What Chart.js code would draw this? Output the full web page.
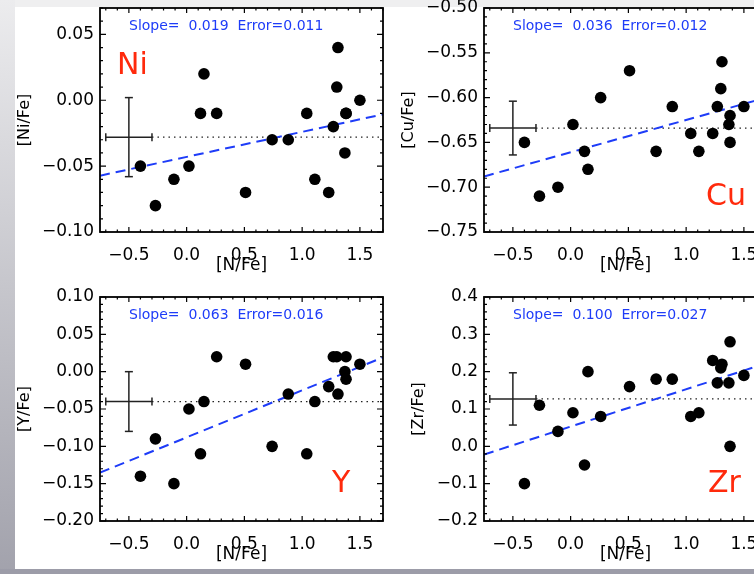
<!DOCTYPE html>
<html>
<head>
<meta charset="utf-8">
<script src="https://cdn.jsdelivr.net/npm/chart.js@4.4.0/dist/chart.umd.min.js"></script>
<style>
  body { margin: 0; }
  #page { position: relative; width: 754px; height: 574px; overflow: hidden; background: #fff; }
  #topStrip { position: absolute; left: 0; top: 0; width: 754px; height: 7px; background: #efeff0; }
  #leftStrip { position: absolute; left: 0; top: 0; width: 15px; height: 574px; background: linear-gradient(#ececee, #c6c6cc 50%, #a2a2ac); }
  #bottomStrip { position: absolute; left: 0; top: 569px; width: 754px; height: 5px; background: #9c9ca8; }
  canvas { position: absolute; }
</style>
</head>
<body>
<div id="page">
  <div id="topStrip"></div>
  <div id="leftStrip"></div>
  <div id="bottomStrip"></div>
  <canvas id="ni" width="403" height="294" style="left:0px; top:-12px"></canvas>
  <canvas id="cu" width="403" height="294" style="left:384px; top:-12px"></canvas>
  <canvas id="yy" width="403" height="294" style="left:0px; top:277px"></canvas>
  <canvas id="zr" width="403" height="294" style="left:384px; top:277px"></canvas>
</div>
<script>
// [N/Fe] of the sample stars (shared by all four panels)
const nFe  = [-0.40, -0.27, -0.11, 0.02, 0.12, 0.15, 0.26, 0.51, 0.74, 0.88, 1.04, 1.11, 1.23, 1.27, 1.30, 1.31, 1.37, 1.38, 1.38, 1.50];
const niFe = [-0.05, -0.08, -0.06, -0.05, -0.01, 0.02, -0.01, -0.07, -0.03, -0.03, -0.01, -0.06, -0.07, -0.02, 0.01, 0.04, -0.04, -0.01, -0.01, 0.00];
const cuFe = [-0.65, -0.71, -0.70, -0.63, -0.66, -0.68, -0.60, -0.57, -0.66, -0.61, -0.64, -0.66, -0.64, -0.61, -0.59, -0.56, -0.63, -0.62, -0.65, -0.61];
const yFe  = [-0.14, -0.09, -0.15, -0.05, -0.11, -0.04, 0.02, 0.01, -0.10, -0.03, -0.11, -0.04, -0.02, 0.02, 0.02, -0.03, 0.00, 0.02, -0.01, 0.01];
const zrFe = [-0.10, 0.11, 0.04, 0.09, -0.05, 0.20, 0.08, 0.16, 0.18, 0.18, 0.08, 0.09, 0.23, 0.17, 0.21, 0.22, 0.17, 0.28, 0.00, 0.19];

// linear fits, mean abundance and typical error per element
const elements    = ['Ni', 'Cu', 'Y', 'Zr'];
const slopes      = [0.019, 0.036, 0.063, 0.100];
const slopeErrors = [0.011, 0.012, 0.016, 0.027];
const intercepts  = [-0.043, -0.661, -0.088, 0.053];
const means       = [-0.028, -0.634, -0.040, 0.127];
const yErrs       = [0.03, 0.03, 0.04, 0.07];
const barX = -0.5, xErr = 0.2;

// axes
const xRange  = [-0.75, 1.7];
const xTicks  = [-0.5, 0.0, 0.5, 1.0, 1.5];
const niTicks = [-0.10, -0.05, 0.00, 0.05];
const cuTicks = [-0.75, -0.70, -0.65, -0.60, -0.55, -0.50];
const yTicks  = [-0.20, -0.15, -0.10, -0.05, 0.00, 0.05, 0.10];
const zrTicks = [-0.2, -0.1, 0.0, 0.1, 0.2, 0.3, 0.4];

const FONT = 'DejaVu Sans';
const BLUE = '#1e3cf8';
const RED = '#ff2a0c';
Chart.defaults.font.family = FONT;
Chart.defaults.color = '#000';

const fmt = (v, d) => v.toFixed(d).replace('-', '\u2212');

// box frame with inward IDL-style ticks, plus the fit text and element name
const framePlugin = {
  id: 'frame',
  afterDatasetsDraw(chart) {
    const {ctx, chartArea: a, scales: {x, y}} = chart;
    const o = chart.options.plugins.frame;
    ctx.save();
    ctx.strokeStyle = '#000';
    ctx.lineWidth = 1.8;
    ctx.strokeRect(a.left, a.top, a.width, a.height);

    ctx.lineWidth = 1.2;
    ctx.beginPath();
    const k0 = Math.ceil(x.min / 0.1 - 1e-6), k1 = Math.floor(x.max / 0.1 + 1e-6);
    for (let k = k0; k <= k1; k++) {
      const px = x.getPixelForValue(k * 0.1);
      const len = k % 5 === 0 ? 5 : 2.5;
      ctx.moveTo(px, a.bottom); ctx.lineTo(px, a.bottom - len);
      ctx.moveTo(px, a.top); ctx.lineTo(px, a.top + len);
    }
    const s = o.minor;
    const j0 = Math.ceil(y.min / s - 1e-6), j1 = Math.floor(y.max / s + 1e-6);
    for (let j = j0; j <= j1; j++) {
      const py = y.getPixelForValue(j * s);
      const len = j % 5 === 0 ? 6 : 3;
      ctx.moveTo(a.left, py); ctx.lineTo(a.left + len, py);
      ctx.moveTo(a.right, py); ctx.lineTo(a.right - len, py);
    }
    ctx.stroke();

    ctx.fillStyle = BLUE;
    ctx.font = '14px ' + FONT;
    ctx.textBaseline = 'middle';
    ctx.fillText('Slope=  ' + o.slope.toFixed(3) + '  Error=' + o.err.toFixed(3), a.left + 29, a.top + 18);

    ctx.fillStyle = RED;
    ctx.font = '30px ' + FONT;
    ctx.textBaseline = 'alphabetic';
    ctx.fillText(o.name, a.left + o.nameAt[0], a.top + o.nameAt[1]);
    ctx.restore();
  }
};

function panel(id, i, vals, ticks, range, decimals, minor, titleGap, nameAt) {
  const pts = nFe.map((v, k) => ({x: v, y: vals[k]}));
  const fit = xRange.map(v => ({x: v, y: intercepts[i] + slopes[i] * v}));
  const m = means[i], e = yErrs[i];
  new Chart(id, {
    type: 'scatter',
    data: {
      datasets: [
        {data: pts, backgroundColor: '#000', borderWidth: 0, pointRadius: 5.8},
        {type: 'line', data: fit, borderColor: BLUE, borderWidth: 2, borderDash: [10, 6], pointRadius: 0},
        {type: 'line', data: [{x: barX + xErr, y: m}, {x: xRange[1], y: m}],
          borderColor: '#222', borderWidth: 1.2, borderDash: [1.5, 4], pointRadius: 0},
        {type: 'line', data: [{x: barX - xErr, y: m}, {x: barX + xErr, y: m}],
          borderColor: '#222', borderWidth: 1.5, pointStyle: 'line', pointRadius: 4,
          pointRotation: 90, pointBorderColor: '#222', pointBorderWidth: 1.5},
        {type: 'line', data: [{x: barX, y: m - e}, {x: barX, y: m + e}],
          borderColor: '#222', borderWidth: 1.5, pointStyle: 'line', pointRadius: 4,
          pointRotation: 0, pointBorderColor: '#222', pointBorderWidth: 1.5}
      ]
    },
    options: {
      responsive: false,
      animation: false,
      layout: {padding: {left: 0, top: 20, right: 20, bottom: 5}},
      plugins: {
        legend: {display: false},
        tooltip: {enabled: false},
        frame: {slope: slopes[i], err: slopeErrors[i], name: elements[i], nameAt: nameAt, minor: minor}
      },
      scales: {
        x: {
          type: 'linear', min: xRange[0], max: xRange[1],
          afterBuildTicks: s => { s.ticks = xTicks.map(v => ({value: v})); },
          afterFit: s => { s.height = 45; },
          ticks: {callback: v => fmt(v, 1), padding: 13, font: {size: 17}, maxRotation: 0},
          grid: {display: false, drawTicks: false},
          border: {display: false},
          title: {display: true, text: '[N/Fe]', font: {size: 17}, padding: {top: 0, bottom: 1}}
        },
        y: {
          type: 'linear', min: range[0], max: range[1],
          afterBuildTicks: s => { s.ticks = ticks.map(v => ({value: v})); },
          afterFit: s => { s.width = 100; },
          ticks: {callback: v => fmt(v, decimals), padding: 6, font: {size: 17}},
          grid: {display: false, drawTicks: false},
          border: {display: false},
          title: {display: true, text: '[' + elements[i] + '/Fe]', font: {size: 16},
            padding: {top: 100 - titleGap - 9.6, bottom: 0}}
        }
      }
    },
    plugins: [framePlugin]
  });
}

panel('ni', 0, niFe, niTicks, [-0.10, 0.07], 2, 0.01, 75, [17, 66]);
panel('cu', 1, cuFe, cuTicks, [-0.75, -0.50], 2, 0.01, 75, [222, 197]);
panel('yy', 2, yFe, yTicks, [-0.20, 0.10], 2, 0.01, 75, [232, 195]);
panel('zr', 3, zrFe, zrTicks, [-0.2, 0.4], 1, 0.02, 65, [224, 195]);
</script>
</body>
</html>
